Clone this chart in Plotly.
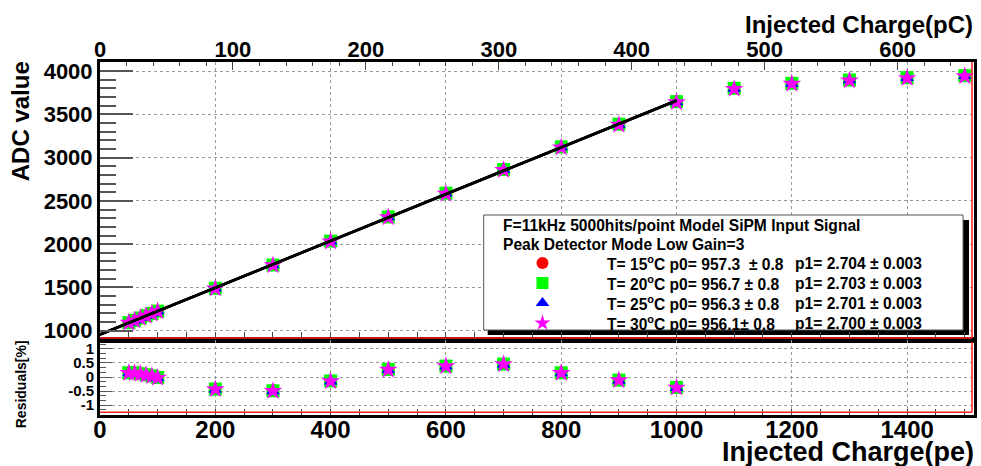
import plotly.graph_objects as go

# ---------------- data ----------------
x_pe = [50, 60, 70, 80, 90, 100, 200, 300, 400, 500, 600, 700, 800, 900, 1000,
        1100, 1200, 1300, 1400, 1500]
x_res = [50, 60, 70, 80, 90, 100, 200, 300, 400, 500, 600, 700, 800, 900, 1000]

adc_15 = [1094.5, 1121.6, 1148.4, 1175.0, 1201.7, 1228.0, 1492.5, 1760.9, 2037.2, 2316.9,
          2591.4, 2865.0, 3127.2, 3389.4, 3650.2, 3804, 3863, 3900, 3927, 3950]
adc_20 = [1093.5, 1120.6, 1147.3, 1173.9, 1200.5, 1226.8, 1490.9, 1759.0, 2035.0, 2314.4,
          2588.6, 2861.9, 3123.8, 3385.7, 3646.2, 3800, 3858, 3896, 3923, 3946]
adc_25 = [1092.6, 1119.6, 1146.1, 1172.6, 1199.0, 1225.2, 1488.8, 1756.4, 2031.9, 2310.8,
          2584.5, 2857.3, 3118.7, 3380.1, 3640.1, 3795, 3854, 3892, 3919, 3942]
adc_30 = [1092.2, 1119.0, 1145.6, 1172.0, 1198.4, 1224.6, 1488.0, 1755.2, 2030.5, 2309.2,
          2582.7, 2855.3, 3116.4, 3377.6, 3637.8, 3793, 3852, 3890, 3917, 3940]

res_15 = [0.17, 0.16, 0.13, 0.09, 0.05, -0.01, -0.41, -0.47, -0.13, 0.28, 0.40, 0.47, 0.16, -0.10, -0.36]
res_20 = [0.15, 0.15, 0.12, 0.08, 0.04, -0.02, -0.43, -0.49, -0.14, 0.27, 0.39, 0.46, 0.15, -0.11, -0.37]
res_25 = [0.13, 0.13, 0.10, 0.06, 0.02, -0.04, -0.45, -0.51, -0.16, 0.25, 0.37, 0.44, 0.13, -0.13, -0.39]
res_30 = [0.14, 0.14, 0.11, 0.07, 0.03, -0.03, -0.44, -0.50, -0.15, 0.26, 0.38, 0.45, 0.14, -0.12, -0.38]

temps = ["15", "20", "25", "30"]
p0 = [957.3, 956.7, 956.3, 956.1]
p0_err = ["0.8", "0.8", "0.8", "0.8"]
p1 = [2.704, 2.703, 2.701, 2.700]
p1_err = ["0.003", "0.003", "0.003", "0.003"]
fit_range = [0, 1000]

header1 = "F=11kHz 5000hits/point Model SiPM Input Signal"
header2 = "Peak Detector Mode Low Gain=3"

y_ticks_main = [1000, 1500, 2000, 2500, 3000, 3500, 4000]
res_ticks = [-1, -0.5, 0, 0.5, 1]
res_ticktext = ["-1", "-0.5", "0", "0.5", "1"]
pe_ticks = [0, 200, 400, 600, 800, 1000, 1200, 1400]
pc_ticks = [0, 100, 200, 300, 400, 500, 600]

# ---------------- styles ----------------
colors = ["#ff0000", "#00ff00", "#0000ff", "#ff00ff"]
symbols = ["circle", "square", "triangle-up", "star"]
sizes = [12, 13, 12, 14]
FONT = "Liberation Sans"

W, H = 981, 466
L, R, T, B = 100, 977, 62, 415
SPLIT = 340


def pxx(p):
    return (p - L) / (R - L)


def pxy(p):
    return (B - p) / (B - T)


series_adc = [adc_15, adc_20, adc_25, adc_30]
series_res = [res_15, res_20, res_25, res_30]

fig = go.Figure()

for i in range(4):
    fig.add_trace(go.Scatter(
        x=x_pe, y=series_adc[i], mode="markers", xaxis="x", yaxis="y",
        marker=dict(symbol=symbols[i], color=colors[i], size=sizes[i], line=dict(width=0)),
        name="T=" + temps[i], showlegend=False))
for i in range(4):
    fig.add_trace(go.Scatter(
        x=x_res, y=series_res[i], mode="markers", xaxis="x2", yaxis="y2",
        marker=dict(symbol=symbols[i], color=colors[i], size=sizes[i], line=dict(width=0)),
        name="res T=" + temps[i], showlegend=False))
# fit lines
for i in range(4):
    fig.add_trace(go.Scatter(
        x=fit_range, y=[p0[i] + p1[i] * v for v in fit_range], mode="lines",
        xaxis="x", yaxis="y", line=dict(color="black", width=2.5),
        showlegend=False, hoverinfo="skip"))
# invisible trace to anchor the top (pC) axis
fig.add_trace(go.Scatter(x=[0], y=[1000], xaxis="x3", yaxis="y", mode="markers",
                         marker=dict(opacity=0), showlegend=False, hoverinfo="skip"))

# legend box (shadow + white box) on a pixel-space helper axis
fig.add_trace(go.Scatter(x=[489, 972, 972, 489, 489], y=[220, 220, 335, 335, 220],
                         xaxis="x4", yaxis="y4", mode="lines", fill="toself",
                         fillcolor="black", line=dict(width=0, color="black"),
                         showlegend=False, hoverinfo="skip"))
fig.add_trace(go.Scatter(x=[485, 966, 966, 485, 485], y=[215, 215, 330, 330, 215],
                         xaxis="x4", yaxis="y4", mode="lines", fill="toself",
                         fillcolor="white", line=dict(width=1, color="#555"),
                         showlegend=False, hoverinfo="skip"))
leg_x = 544
leg_rows = [263, 283, 303, 323]
for i in range(4):
    fig.add_trace(go.Scatter(
        x=[leg_x], y=[leg_rows[i]], mode="markers", xaxis="x4", yaxis="y4",
        marker=dict(symbol=symbols[i], color=colors[i], size=12, line=dict(width=0)),
        showlegend=False, hoverinfo="skip"))

grid = dict(showgrid=True, gridcolor="#9a9a9a", griddash="dot", gridwidth=1)
line = dict(showline=True, linecolor="black", linewidth=3, mirror=True)

fig.update_layout(
    width=W, height=H,
    margin=dict(l=L, r=W - R, t=T, b=H - B),
    paper_bgcolor="white", plot_bgcolor="white",
    showlegend=False,
    font=dict(family=FONT, color="black"),
    xaxis=dict(domain=[0, 1], range=[0, 1516], anchor="y", tickvals=pe_ticks,
               showticklabels=False, ticks="inside", ticklen=8, tickcolor="#444",
               minor=dict(ticks="inside", ticklen=8, dtick=50, tick0=0, tickcolor="#444"),
               zeroline=False, **grid, **line),
    yaxis=dict(domain=[pxy(SPLIT), 1], range=[893, 4104], anchor="x",
               tickvals=y_ticks_main, ticks="inside", ticklen=33, tickwidth=1.5,
               tickcolor="#555",
               minor=dict(ticks="inside", ticklen=16, dtick=100, tick0=0, tickcolor="#555",
                          tickwidth=1.5),
               tickfont=dict(family=FONT, size=22, weight="bold", color="black"),
               zeroline=False, **grid, **line),
    xaxis3=dict(overlaying="x", side="top", anchor="y", range=[0, 657.5], tickvals=pc_ticks,
                ticks="inside", ticklen=8, tickcolor="#444",
                minor=dict(ticks="inside", ticklen=4, dtick=20, tick0=0, tickcolor="#444"),
                tickfont=dict(family=FONT, size=22, weight="bold", color="black"),
                showgrid=False, zeroline=False, showline=False),
    xaxis2=dict(domain=[0, 1], range=[0, 1516], anchor="y2", tickvals=pe_ticks,
                ticks="inside", ticklen=6, tickcolor="#444", ticklabelstandoff=-9,
                minor=dict(ticks="inside", ticklen=6, dtick=50, tick0=0, tickcolor="#444"),
                tickfont=dict(family=FONT, size=24, weight="bold", color="black"),
                zeroline=False, **grid, **line),
    yaxis2=dict(domain=[0, pxy(SPLIT)], range=[-1.352, 1.317], anchor="x2",
                tickvals=res_ticks, ticktext=res_ticktext,
                ticks="inside", ticklen=12, tickcolor="#555",
                minor=dict(ticks="inside", ticklen=6, dtick=1 / 6, tick0=0, tickcolor="#555"),
                tickfont=dict(family=FONT, size=15, weight="bold", color="black"),
                zeroline=False, **grid, **line),
    xaxis4=dict(overlaying="x", anchor="y4", range=[L, R], visible=False, fixedrange=True),
    yaxis4=dict(overlaying="y", anchor="x4", range=[SPLIT, T], visible=False, fixedrange=True),
)

shapes = []
red = dict(color="#ff2020", width=1.5)
shapes.append(dict(type="line", xref="paper", yref="paper", x0=pxx(100), x1=pxx(975),
                   y0=pxy(338), y1=pxy(338), line=red))
shapes.append(dict(type="line", xref="paper", yref="paper", x0=pxx(975), x1=pxx(975),
                   y0=pxy(338), y1=pxy(62), line=red))
shapes.append(dict(type="line", xref="paper", yref="paper", x0=pxx(100), x1=pxx(975),
                   y0=pxy(412.3), y1=pxy(412.3), line=red))
shapes.append(dict(type="line", xref="paper", yref="paper", x0=pxx(975), x1=pxx(975),
                   y0=pxy(412.3), y1=pxy(342), line=red))
fig.update_layout(shapes=shapes)

NB = "\u00a0"
ann = []
lf = dict(family=FONT, size=15.6, color="black", weight="bold")
ann.append(dict(text=header1, xref="paper", yref="paper", x=pxx(502), y=pxy(225),
                xanchor="left", yanchor="middle", showarrow=False, font=lf))
ann.append(dict(text=header2, xref="paper", yref="paper", x=pxx(502), y=pxy(245),
                xanchor="left", yanchor="middle", showarrow=False, font=lf))
gaps = [NB + " ", " ", " ", ""]
for i in range(4):
    t1 = "T= %s<sup>o</sup>C p0= %.1f%s\u00b1 %s" % (temps[i], p0[i], gaps[i], p0_err[i])
    t2 = "p1= %.3f \u00b1 %s" % (p1[i], p1_err[i])
    ann.append(dict(text=t1, xref="paper", yref="paper", x=pxx(607), y=pxy(leg_rows[i]),
                    xanchor="left", yanchor="middle", showarrow=False, font=lf))
    ann.append(dict(text=t2, xref="paper", yref="paper", x=pxx(795), y=pxy(leg_rows[i]),
                    xanchor="left", yanchor="middle", showarrow=False, font=lf))
# axis titles
ann.append(dict(text="ADC value", xref="paper", yref="paper", x=pxx(21), y=pxy(121),
                xanchor="center", yanchor="middle", textangle=-90, showarrow=False,
                font=dict(family=FONT, size=24, weight="bold", color="black")))
ann.append(dict(text="Residuals[%]", xref="paper", yref="paper", x=pxx(21), y=pxy(384),
                xanchor="center", yanchor="middle", textangle=-90, showarrow=False,
                font=dict(family=FONT, size=14, weight="bold", color="black")))
ann.append(dict(text="Injected Charge(pC)", xref="paper", yref="paper", x=pxx(978), y=pxy(24),
                xanchor="right", yanchor="middle", showarrow=False,
                font=dict(family=FONT, size=24, weight="bold", color="black")))
ann.append(dict(text="Injected Charge(pe)", xref="paper", yref="paper", x=pxx(979), y=pxy(452),
                xanchor="right", yanchor="middle", showarrow=False,
                font=dict(family=FONT, size=27, weight="bold", color="black")))
fig.update_layout(annotations=ann)

fig.write_html("out.html", config={"displayModeBar": False},
               post_script="document.body.style.margin='0';")
